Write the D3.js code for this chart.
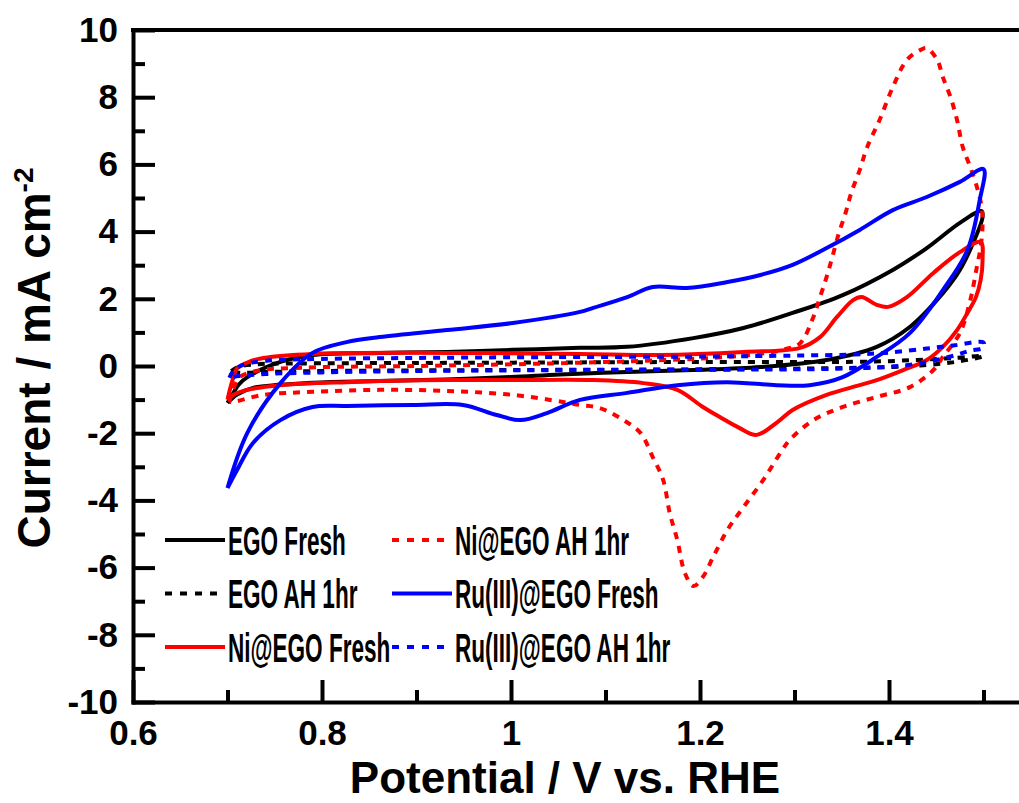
<!DOCTYPE html>
<html>
<head>
<meta charset="utf-8">
<script src="https://cdn.jsdelivr.net/npm/d3@7"></script>
<style>
  body { margin: 0; background: #fff; }
  svg { display: block; }
  text { font-family: "Liberation Sans", Arial, sans-serif; font-weight: bold; fill: #000; }
</style>
</head>
<body>
<svg id="chart" width="1019" height="803"></svg>
<script>
// tick labels
var xMajorTicks = [0.6, 0.8, 1.0, 1.2, 1.4];
var xMinorTicks = [0.7, 0.9, 1.1, 1.3, 1.5];
var yMajorTicks = [-10, -8, -6, -4, -2, 0, 2, 4, 6, 8, 10];
var yMinorTicks = [-9, -7, -5, -3, -1, 1, 3, 5, 7, 9];

// series: [potential V, current mA/cm2], anodic sweep then back
var egoFresh = [
  [0.700,-1.10],[0.705,-0.86],[0.712,-0.55],[0.721,-0.33],[0.756,0.12],[0.790,0.33],[0.861,0.39],
  [0.932,0.42],[1.002,0.48],[1.073,0.54],[1.123,0.57],[1.193,0.83],[1.246,1.13],[1.298,1.58],
  [1.351,2.11],[1.404,2.86],[1.440,3.51],[1.475,4.26],[1.498,4.61],
  [1.499,4.43],[1.489,3.66],[1.475,2.86],[1.457,2.17],[1.422,1.16],[1.387,0.57],[1.334,0.18],
  [1.264,-0.03],[1.193,-0.12],[1.123,-0.18],[1.052,-0.25],[1.000,-0.33],[0.930,-0.40],
  [0.860,-0.45],[0.790,-0.50],[0.727,-0.65],[0.710,-0.85],[0.700,-1.10]
];
var egoAH = [
  [0.704,-0.15],[0.712,-0.02],[0.730,0.05],[0.800,0.08],[0.900,0.09],[1.000,0.10],[1.100,0.11],
  [1.200,0.12],[1.300,0.12],[1.380,0.13],[1.430,0.18],[1.470,0.24],[1.500,0.30],
  [1.495,0.25],[1.470,0.12],[1.440,0.03],[1.400,-0.03],[1.300,-0.08],[1.200,-0.10],[1.100,-0.11],
  [1.000,-0.12],[0.900,-0.13],[0.800,-0.15],[0.740,-0.18],[0.712,-0.20],[0.704,-0.15]
];
var niFresh = [
  [0.700,-1.00],[0.705,-0.45],[0.710,-0.08],[0.725,0.15],[0.738,0.24],[0.790,0.36],[0.932,0.39],
  [1.073,0.36],[1.158,0.33],[1.246,0.42],[1.306,0.54],[1.327,0.86],[1.345,1.46],[1.362,1.96],
  [1.371,2.05],[1.387,1.82],[1.399,1.76],[1.419,2.05],[1.447,2.77],[1.475,3.39],[1.497,3.69],
  [1.499,3.15],[1.497,2.56],[1.492,2.05],[1.483,1.58],[1.472,1.07],[1.457,0.57],[1.440,0.18],
  [1.415,-0.12],[1.387,-0.42],[1.369,-0.57],[1.334,-0.86],[1.298,-1.31],[1.282,-1.67],
  [1.260,-2.05],[1.242,-1.85],[1.221,-1.52],[1.203,-1.22],[1.176,-0.71],[1.140,-0.51],
  [1.087,-0.42],[1.000,-0.42],[0.932,-0.42],[0.826,-0.48],[0.756,-0.57],[0.721,-0.71],
  [0.706,-0.86],[0.700,-1.00]
];
var niAH = [
  [0.702,-1.07],[0.706,-0.70],[0.712,-0.35],[0.730,-0.15],[0.780,-0.05],[0.900,0.00],[1.000,0.05],
  [1.100,0.12],[1.200,0.22],[1.260,0.35],[1.290,0.50],[1.306,0.68],[1.320,1.46],[1.327,2.05],
  [1.334,2.65],[1.340,3.24],[1.347,3.96],[1.354,4.55],[1.360,5.15],[1.369,5.83],[1.377,6.52],
  [1.390,7.32],[1.404,8.30],[1.419,9.11],[1.433,9.40],[1.440,9.46],[1.451,9.11],[1.457,8.60],
  [1.465,8.01],[1.472,7.32],[1.478,6.52],[1.486,5.92],[1.493,5.33],[1.498,4.73],
  [1.499,4.20],[1.497,3.54],[1.493,2.95],[1.486,1.96],[1.475,0.98],[1.457,0.27],[1.447,-0.12],
  [1.422,-0.63],[1.387,-0.92],[1.351,-1.22],[1.320,-1.61],[1.295,-2.20],[1.285,-2.59],
  [1.267,-3.39],[1.246,-4.20],[1.229,-4.88],[1.214,-5.68],[1.203,-6.28],[1.193,-6.55],
  [1.184,-6.16],[1.176,-5.18],[1.168,-4.38],[1.161,-3.39],[1.150,-2.71],[1.137,-1.99],
  [1.119,-1.61],[1.094,-1.25],[1.073,-1.16],[1.055,-1.07],[1.002,-0.86],[0.932,-0.74],
  [0.861,-0.71],[0.790,-0.77],[0.738,-0.86],[0.706,-1.07],[0.702,-1.07]
];
var ruFresh = [
  [0.700,-3.63],[0.721,-1.99],[0.756,-0.51],[0.790,0.39],[0.826,0.71],[0.861,0.86],[0.932,1.07],
  [1.002,1.28],[1.073,1.61],[1.087,1.73],[1.123,2.05],[1.150,2.35],[1.186,2.32],[1.229,2.50],
  [1.264,2.71],[1.298,3.01],[1.334,3.51],[1.369,4.05],[1.404,4.64],[1.440,5.03],[1.475,5.48],
  [1.500,5.86],
  [1.496,4.94],[1.483,3.45],[1.457,2.26],[1.422,0.98],[1.387,0.27],[1.351,-0.33],[1.316,-0.57],
  [1.281,-0.57],[1.229,-0.48],[1.176,-0.57],[1.123,-0.80],[1.073,-1.01],[1.038,-1.40],
  [1.010,-1.61],[0.985,-1.46],[0.949,-1.16],[0.896,-1.16],[0.826,-1.19],[0.790,-1.22],
  [0.756,-1.61],[0.727,-2.29],[0.710,-3.10],[0.700,-3.63]
];
var ruAH = [
  [0.702,-0.35],[0.706,-0.15],[0.715,0.02],[0.740,0.15],[0.800,0.21],[0.900,0.24],[1.000,0.26],
  [1.100,0.27],[1.200,0.28],[1.300,0.31],[1.360,0.34],[1.400,0.40],[1.440,0.52],[1.470,0.62],
  [1.500,0.70],
  [1.500,0.55],[1.485,0.45],[1.470,0.32],[1.440,0.12],[1.410,0.00],[1.360,-0.07],[1.300,-0.10],
  [1.200,-0.11],[1.100,-0.12],[1.000,-0.13],[0.900,-0.15],[0.800,-0.19],[0.740,-0.24],
  [0.712,-0.30],[0.702,-0.35]
];

var seriesNames = ["EGO Fresh", "EGO AH 1hr", "Ni@EGO Fresh", "Ni@EGO AH 1hr", "Ru(III)@EGO Fresh", "Ru(III)@EGO AH 1hr"];
var seriesData = [egoFresh, egoAH, niFresh, niAH, ruFresh, ruAH];
var seriesColors = ["#000000", "#000000", "#ff0000", "#ff0000", "#0000ff", "#0000ff"];
var seriesDashed = [false, true, false, true, false, true];

function drawChart() {
    var svg = d3.select("#chart");
    var left = 133, top = 30, bottom = 702;

    var x = d3.scaleLinear().domain([0.6, 1.55]).range([left, left + 0.95 * 945]);
    var y = d3.scaleLinear().domain([-10, 10]).range([bottom, top]);

    svg.append("rect").attr("width", 1019).attr("height", 803).attr("fill", "#fff");

    var fmt = function(d) { return String(+d.toFixed(1)); };

    // minor ticks first, no labels
    svg.append("g")
        .attr("transform", "translate(0," + bottom + ")")
        .call(d3.axisBottom(x).tickValues(xMinorTicks).tickSize(-12).tickSizeOuter(0).tickFormat(""))
        .call(function(g) { g.select(".domain").remove(); });
    svg.append("g")
        .attr("transform", "translate(" + left + ",0)")
        .call(d3.axisLeft(y).tickValues(yMinorTicks).tickSize(-12).tickSizeOuter(0).tickFormat(""))
        .call(function(g) { g.select(".domain").remove(); });

    var xAxis = svg.append("g")
        .attr("transform", "translate(0," + bottom + ")")
        .call(d3.axisBottom(x).tickValues(xMajorTicks).tickSize(-22).tickSizeOuter(0).tickPadding(18).tickFormat(fmt));
    var yAxis = svg.append("g")
        .attr("transform", "translate(" + left + ",0)")
        .call(d3.axisLeft(y).tickValues(yMajorTicks).tickSize(-22).tickSizeOuter(0).tickPadding(15).tickFormat(fmt));

    svg.selectAll(".tick line").attr("stroke", "#000").attr("stroke-width", 4);
    [xAxis, yAxis].forEach(function(a) {
        a.select(".domain").attr("stroke", "#000").attr("stroke-width", 4).attr("stroke-linecap", "square");
        a.selectAll("text")
            .style("font-family", "'Liberation Sans', Arial, sans-serif")
            .style("font-weight", "bold")
            .style("font-size", "35px")
            .attr("fill", "#000");
    });

    // top frame line
    svg.append("line")
        .attr("x1", x.range()[0]).attr("x2", x.range()[1])
        .attr("y1", y(10)).attr("y2", y(10))
        .attr("stroke", "#000").attr("stroke-width", 4).attr("stroke-linecap", "square");

    var line = d3.line()
        .x(function(d) { return x(d[0]); })
        .y(function(d) { return y(d[1]); })
        .curve(d3.curveCatmullRom.alpha(0.5));

    seriesData.forEach(function(data, i) {
        svg.append("path")
            .datum(data)
            .attr("fill", "none")
            .attr("stroke", seriesColors[i])
            .attr("stroke-width", 4)
            .attr("stroke-linejoin", "round")
            .attr("stroke-dasharray", seriesDashed[i] ? "7,7" : null)
            .attr("d", line);
    });

    // legend, two columns of three
    var legend = svg.append("g");
    seriesNames.forEach(function(name, i) {
        var col = Math.floor(i / 3), row = i % 3;
        var lx = col === 0 ? 165 : 392;
        var ly = 540 + row * 53.5;
        legend.append("line")
            .attr("x1", lx).attr("x2", lx + 60)
            .attr("y1", ly).attr("y2", ly)
            .attr("stroke", seriesColors[i])
            .attr("stroke-width", 4)
            .attr("stroke-dasharray", seriesDashed[i] ? "7,8" : null);
        legend.append("text")
            .attr("transform", "translate(" + (lx + 63) + "," + ly + ") scale(0.55,1)")
            .attr("dy", "0.36em")
            .style("font-size", "41px")
            .text(name);
    });

    // axis titles
    svg.append("text")
        .attr("x", 565).attr("y", 793)
        .attr("text-anchor", "middle")
        .style("font-size", "44px")
        .text("Potential / V vs. RHE");

    var yt = svg.append("text")
        .attr("transform", "translate(50,358) rotate(-90)")
        .attr("text-anchor", "middle")
        .style("font-size", "46px");
    yt.append("tspan").text("Current / mA cm");
    yt.append("tspan").attr("dy", -17).style("font-size", "28px").text("-2");
}

drawChart();
</script>
</body>
</html>
